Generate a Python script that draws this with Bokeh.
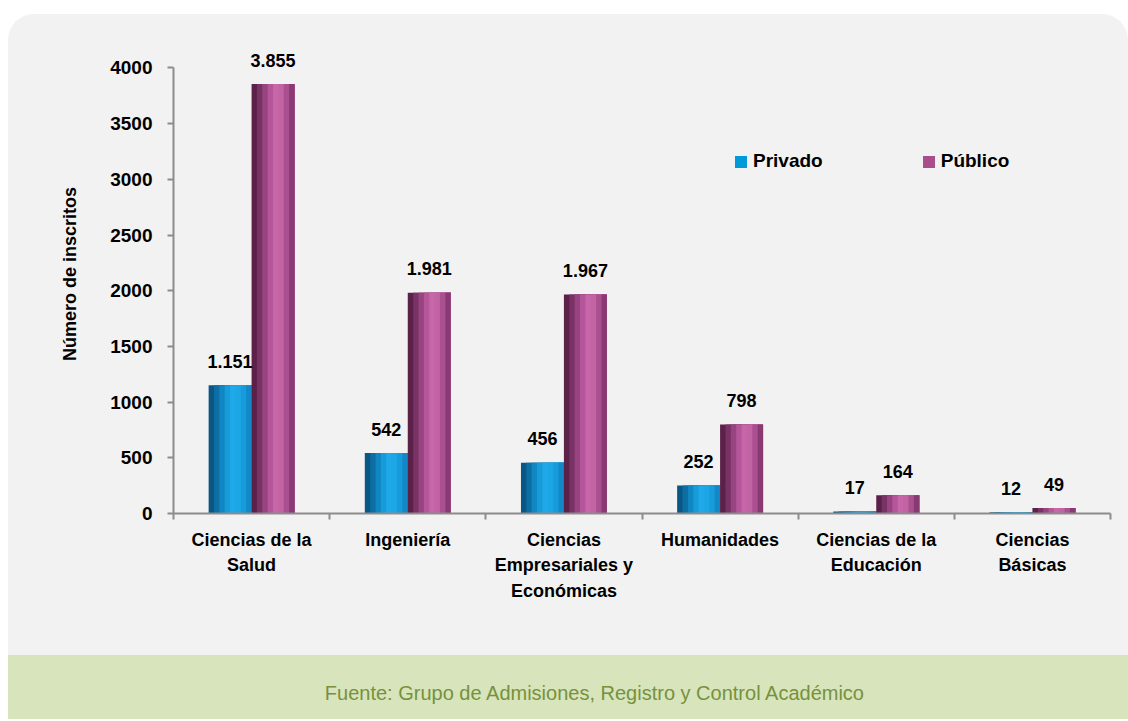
from bokeh.plotting import figure
from bokeh.models import ColumnDataSource, FixedTicker, Range1d, Legend, LegendItem, Label
from bokeh.layouts import column
from bokeh.transform import dodge
from bokeh.core.properties import value
from bokeh.embed import file_html
from bokeh.resources import INLINE

# ---------------- data ----------------
categories = ["Ciencias de la\nSalud", "Ingeniería", "Ciencias\nEmpresariales y\nEconómicas",
              "Humanidades", "Ciencias de la\nEducación", "Ciencias\nBásicas"]
privado = [1151, 542, 456, 252, 17, 12]
publico = [3855, 1981, 1967, 798, 164, 49]
privado_labels = ["1.151", "542", "456", "252", "17", "12"]
publico_labels = ["3.855", "1.981", "1.967", "798", "164", "49"]
y_ticks = [0, 500, 1000, 1500, 2000, 2500, 3000, 3500, 4000]
series_names = ["Privado", "Público"]
footer_text = "Fuente: Grupo de Admisiones, Registro y Control Académico"

# ---------------- styles ----------------
FONT = "Liberation Sans"
BG = "#f2f2f2"
GREEN_BG = "#d8e4bc"
AXIS_COLOR = "#8c8c8c"
blue_legend = "#0099da"
purple_legend = "#a84f8b"
blue_shades = ["#0a5784", "#0c6ea3", "#1087c2", "#179cda", "#1fa9e8", "#1da6e5", "#189bdb", "#1288c6"]
purple_shades = ["#5c2149", "#783265", "#974480", "#b5569a", "#c766a8", "#c263a4", "#aa5090", "#8a3a72"]

n_cat = len(categories)
centers = [i + 0.5 for i in range(n_cat)]
source = ColumnDataSource(dict(cx=centers, privado=privado, publico=publico,
                               plab=privado_labels, publab=publico_labels))

W, H_MAIN, H_FOOT = 1120, 641, 64
BL, BR = 165, 18
p = figure(width=W, height=H_MAIN, x_range=Range1d(0, n_cat), y_range=Range1d(0, 4300),
           output_backend="svg", toolbar_location=None,
           min_border_left=BL, min_border_right=BR, min_border_top=20, min_border_bottom=142,
           background_fill_alpha=0, border_fill_alpha=0, outline_line_color=None,
           styles={"border-radius": "26px 26px 0 0", "overflow": "hidden",
                   "background-color": BG})
p.margin = (14, 0, 0, 8)
p.grid.visible = False

bw = 0.275
n_strip = len(blue_shades)
for j in range(n_strip):
    # privado bar spans [c - bw, c]; strips layered from the left edge
    left = -bw + j * bw / n_strip
    right = 0.0
    p.vbar(x=dodge("cx", (left + right) / 2, range=p.x_range), top="privado", bottom=0,
           width=right - left, source=source, fill_color=blue_shades[j], line_color=None)
for j in range(n_strip):
    left = j * bw / n_strip
    right = bw
    p.vbar(x=dodge("cx", (left + right) / 2, range=p.x_range), top="publico", bottom=0,
           width=right - left, source=source, fill_color=purple_shades[j], line_color=None)

lab_kw = dict(text_align="center", text_baseline="alphabetic", y_offset=-24,
              text_font=value(FONT), text_font_size="18px", text_font_style="bold",
              text_color="#000000")
p.text(x=dodge("cx", -bw / 2, range=p.x_range), y="privado", text="plab", source=source, **lab_kw)
p.text(x=dodge("cx", bw / 2, range=p.x_range), y="publico", text="publab", source=source, **lab_kw)

# legend proxies (zero-width bars, only their legend glyph shows)
r_leg1 = p.vbar(x="cx", top="privado", width=0, source=source, fill_color=blue_legend, line_color=None)
r_leg2 = p.vbar(x="cx", top="publico", width=0, source=source, fill_color=purple_legend, line_color=None)
legend = Legend(items=[LegendItem(label=series_names[0], renderers=[r_leg1]),
                       LegendItem(label=series_names[1], renderers=[r_leg2])],
                orientation="horizontal", location=(560, 341),
                glyph_width=15, glyph_height=15, label_standoff=5, spacing=98,
                padding=0, margin=0, border_line_color=None, background_fill_alpha=0,
                label_text_font=FONT, label_text_font_size="19px",
                label_text_font_style="bold", label_text_color="#000000")
p.add_layout(legend)

# x axis
xa = p.xaxis[0]
xa.ticker = FixedTicker(ticks=centers, minor_ticks=list(range(n_cat + 1)))
xa.major_label_overrides = {c: lab for c, lab in zip(centers, categories)}
xa.major_tick_out = 0
xa.major_tick_in = 0
xa.minor_tick_out = 6
xa.minor_tick_in = 0
xa.minor_tick_line_color = AXIS_COLOR
xa.minor_tick_line_width = 2
xa.axis_line_color = AXIS_COLOR
xa.axis_line_width = 2
xa.major_label_standoff = 10
xa.major_label_text_font = FONT
xa.major_label_text_font_size = "18px"
xa.major_label_text_font_style = "bold"
xa.major_label_text_color = "#000000"
xa.major_label_text_line_height = 1.28

# y axis
ya = p.yaxis[0]
ya.ticker = FixedTicker(ticks=y_ticks)
ya.bounds = (0, 4000)
ya.major_tick_out = 6
ya.major_tick_in = 0
ya.minor_tick_line_color = None
ya.major_tick_line_color = AXIS_COLOR
ya.major_tick_line_width = 2
ya.axis_line_color = AXIS_COLOR
ya.axis_line_width = 2
ya.major_label_standoff = 15
ya.major_label_text_font = FONT
ya.major_label_text_font_size = "19px"
ya.major_label_text_font_style = "bold"
ya.major_label_text_color = "#000000"
ya.axis_label = "Número de inscritos"
ya.axis_label_standoff = 27
ya.axis_label_text_font = FONT
ya.axis_label_text_font_size = "18px"
ya.axis_label_text_font_style = "bold"
ya.axis_label_text_color = "#000000"

# footer band
FW = W - BL - BR
f = figure(width=W, height=H_FOOT, x_range=Range1d(0, FW), y_range=Range1d(0, H_FOOT),
           output_backend="svg", toolbar_location=None, x_axis_location=None,
           y_axis_location=None, min_border_left=BL, min_border_right=BR,
           min_border_top=0, min_border_bottom=0,
           background_fill_alpha=0, border_fill_alpha=0, outline_line_color=None,
           styles={"background-color": GREEN_BG})
f.margin = (0, 0, 0, 8)
f.grid.visible = False
f.add_layout(Label(x=587 - BL, y=H_FOOT - 37, text=footer_text, text_align="center",
                   text_baseline="middle", text_font=FONT, text_font_size="20px",
                   text_color="#76923c"))

layout = column(p, f, spacing=0)
open("out.html", "w").write(file_html(layout, INLINE))
